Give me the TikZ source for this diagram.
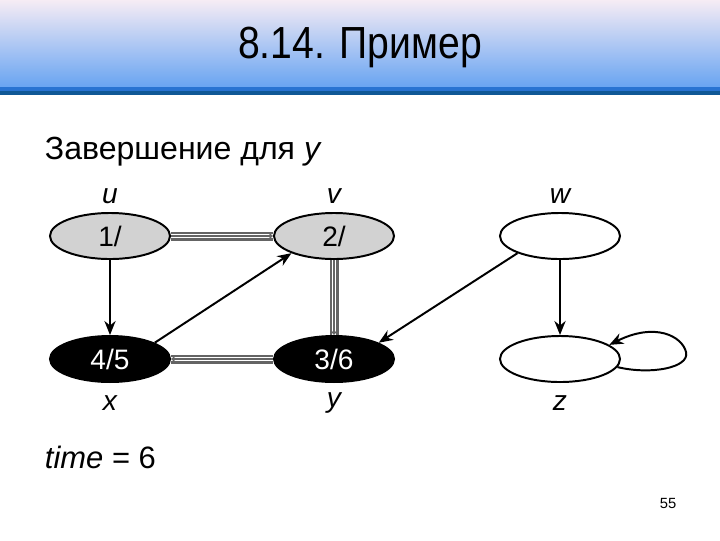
\documentclass[tikz,border=0pt]{standalone}
\usepackage{fontspec}
\setmainfont{Liberation Sans}
\newfontfamily\titlefont[FakeStretch=0.87]{Liberation Sans}
\usetikzlibrary{arrows.meta, shapes.geometric}
\definecolor{headtop}{RGB}{246,236,244}
\definecolor{headbot}{RGB}{104,164,242}
\definecolor{barblue}{RGB}{40,115,210}
\definecolor{bardark}{RGB}{16,88,150}
\definecolor{nodegray}{RGB}{210,210,210}
\definecolor{treegray}{RGB}{100,100,100}

\tikzset{
  vert/.style={ellipse, draw=black, line width=1.4pt, minimum width=3cm,
               minimum height=1.15cm, inner sep=0pt,
               font=\fontsize{20}{24}\selectfont},
  grayvert/.style={vert, fill=nodegray},
  blackvert/.style={vert, fill=black, text=white},
  whitevert/.style={vert, fill=white},
  vlabel/.style={font=\fontsize{20}{24}\selectfont\itshape},
  arr/.style={draw=black, line width=1.4pt, -{Stealth[length=10pt,width=8pt]}},
  treeedge/.style={draw=treegray, line width=6.4pt,
                   postaction={draw=white, line width=3.4pt},
                   postaction={draw=treegray, line width=1.4pt,
                               -{Stealth[length=3pt,width=5pt]}}}
}

\begin{document}
\begin{tikzpicture}[x=0.025cm, y=-0.025cm]
  \useasboundingbox (0,0) rectangle (720,540);

  % header
  \shade[top color=headtop, bottom color=headbot] (0,0) rectangle (720,87);
  \fill[barblue] (0,87) rectangle (720,91);
  \fill[bardark] (0,91) rectangle (720,95);
  \node[font=\titlefont\fontsize{32}{36}\selectfont] (title) at (360,47)
    {8.14. Пример};

  \node[anchor=west, font=\fontsize{22.8}{27}\selectfont] (caption) at (40,152)
    {Завершение для \textit{y}};

  % vertices
  \node[grayvert]  (u) at (110,236) {1/};
  \node[grayvert]  (v) at (334,236) {2/};
  \node[whitevert] (w) at (560,236) {};
  \node[blackvert] (x) at (110,359) {4/5};
  \node[blackvert] (y) at (334,359) {3/6};
  \node[whitevert] (z) at (560,359) {};

  \node[vlabel] (lu) at (110,196) {u};
  \node[vlabel] (lv) at (334,196) {v};
  \node[vlabel] (lw) at (560,196) {w};
  \node[vlabel] (lx) at (110,403) {x};
  \node[vlabel] (ly) at (334,403) {y};
  \node[vlabel] (lz) at (560,403) {z};

  % tree edges
  \draw[treeedge] (u) -- (v);
  \draw[treeedge] (v) -- (y);
  \draw[treeedge] (y) -- (x);

  % other edges
  \draw[arr] (u) -- (x);
  \draw[arr] (x.20) -- (v.202);
  \draw[arr] (w.202) -- (y.20);
  \draw[arr] (w) -- (z);
  \draw[arr] (z.-8) .. controls (650,375) and (690,368) .. (686,352)
             .. controls (682,336) and (655,322) .. (z.16);

  \node[anchor=west, font=\fontsize{22}{26}\selectfont] (clock) at (40,457)
    {\textit{time} = 6};
  \node[font=\fontsize{10.5}{12}\selectfont] (page) at (668,503) {55};
\end{tikzpicture}
\end{document}
